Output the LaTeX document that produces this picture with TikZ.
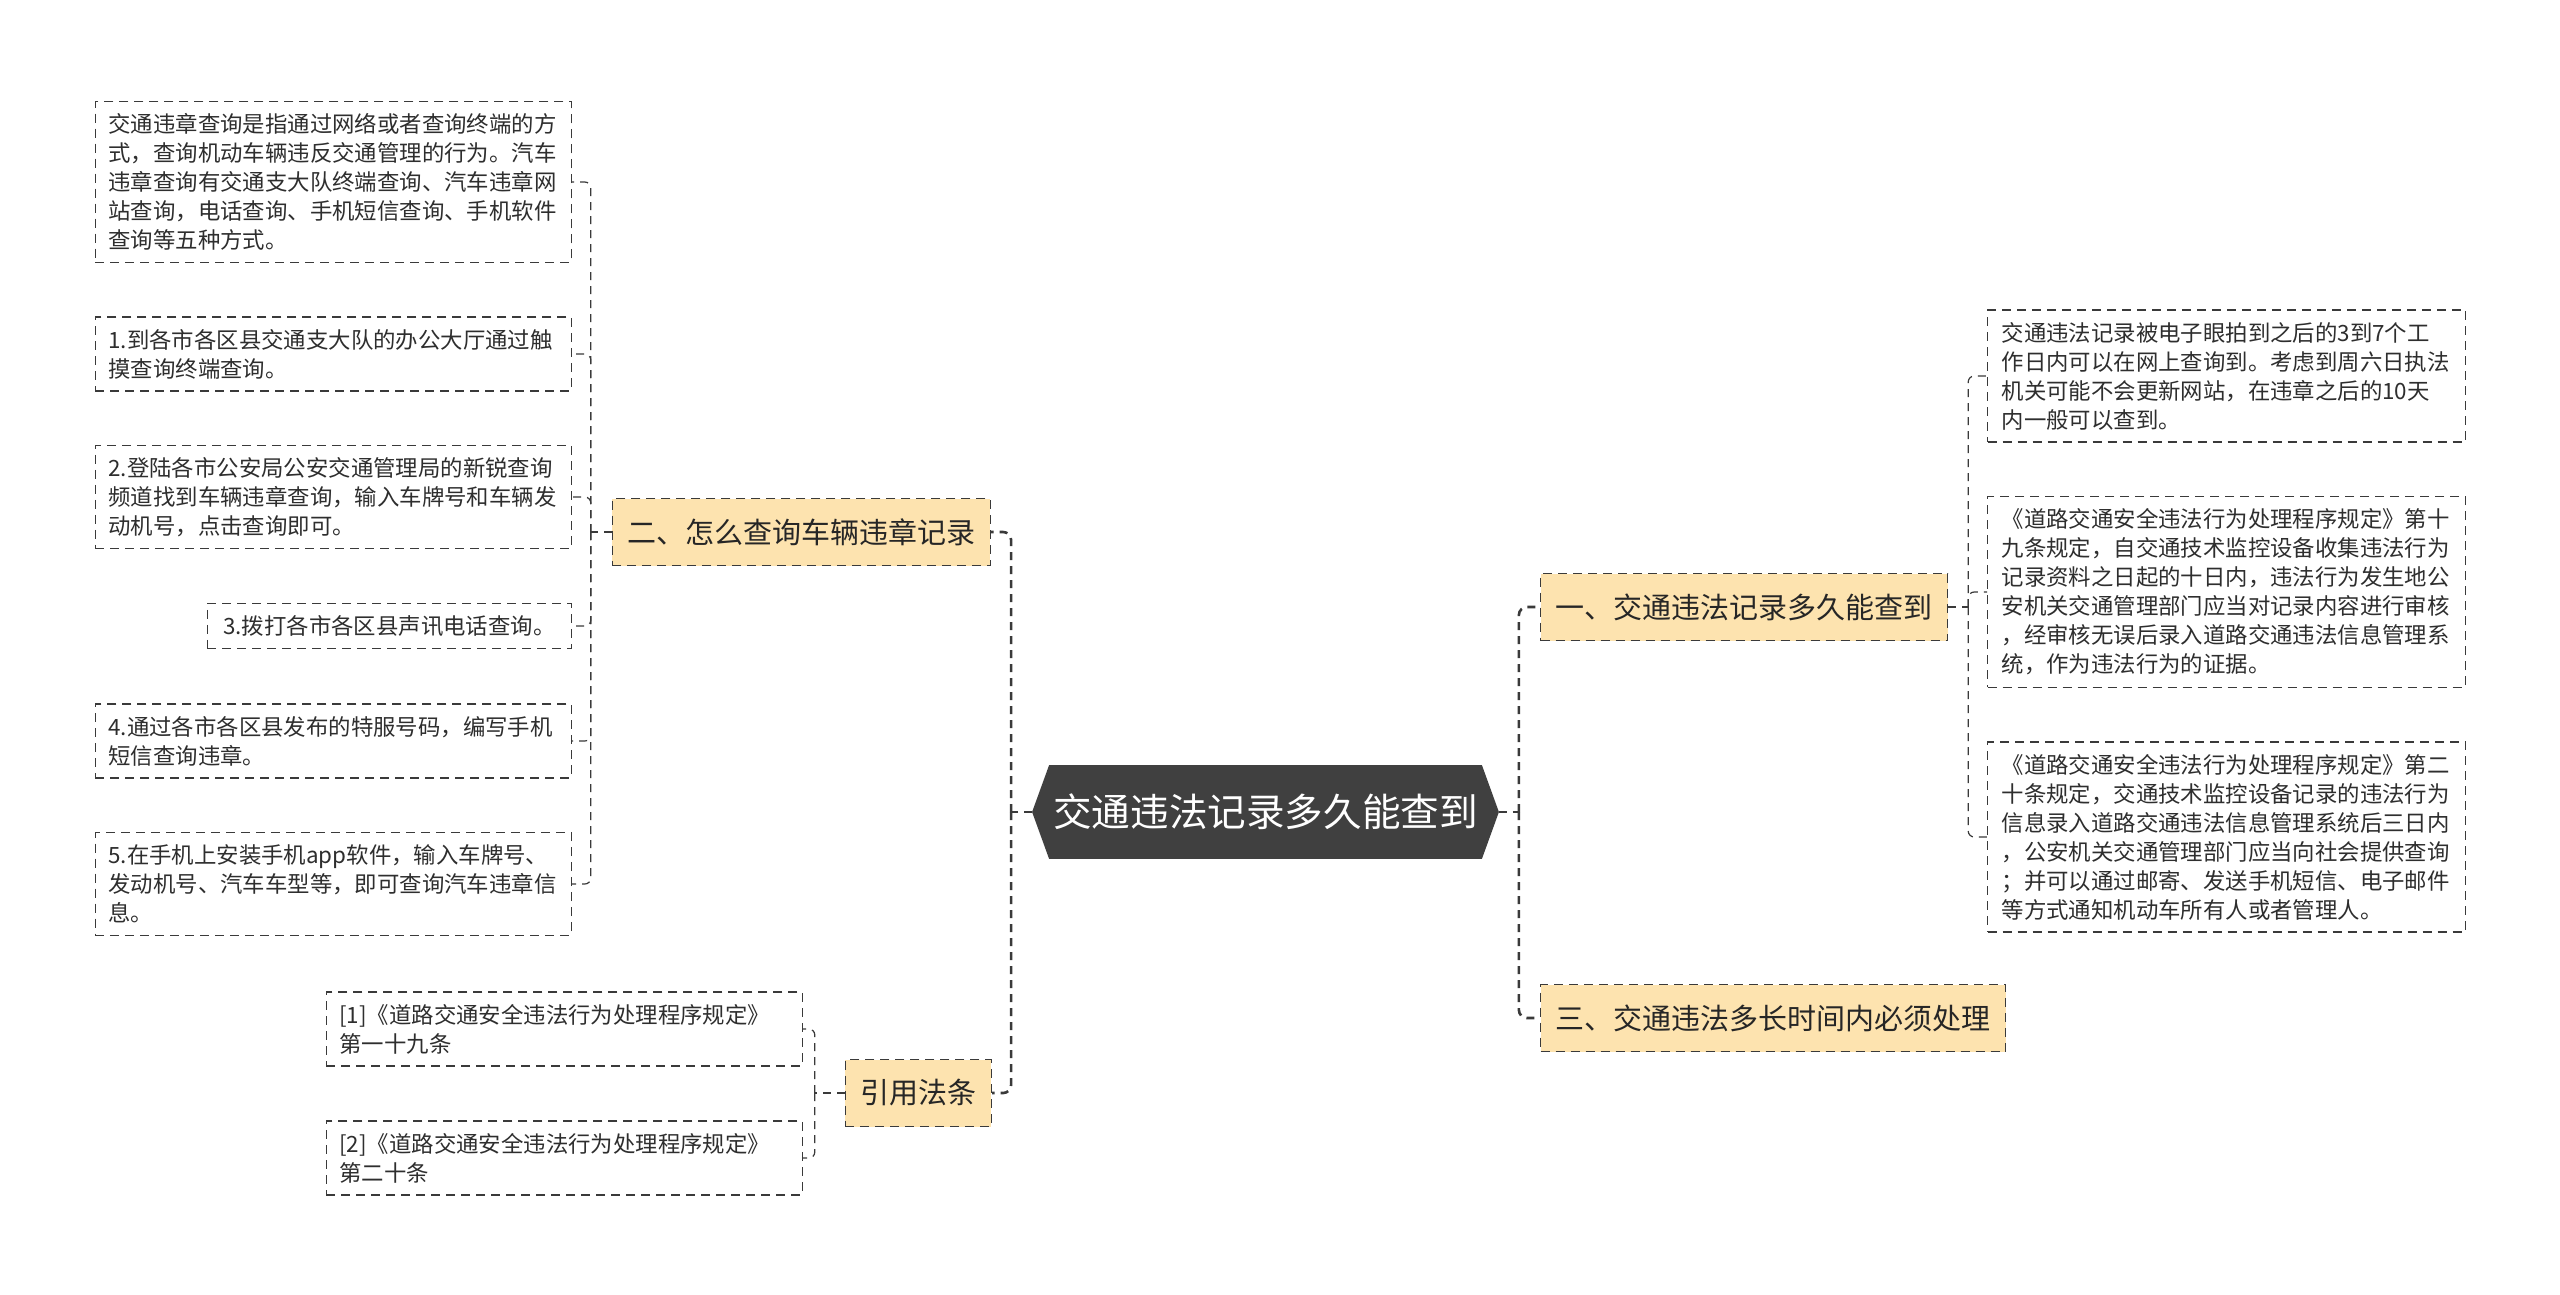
\documentclass[tikz,border=0pt]{standalone}
\usepackage{fontspec}
\newfontfamily\cjk{Noto Sans CJK SC}
\usepackage{xcolor}
\usetikzlibrary{calc,backgrounds}
\definecolor{rootgray}{HTML}{404040}
\definecolor{topicfill}{HTML}{FDE3AF}
\definecolor{linegray}{HTML}{3A3A3A}
\definecolor{textgray}{HTML}{2E2E2E}
\tikzset{
  leaf/.style={draw=linegray, line width=0.6pt, dash pattern=on 4.5pt off 3pt,
    align=left, inner xsep=6.5pt, inner ysep=6pt, text=textgray,
    font=\cjk\fontsize{11.2}{14.5}\selectfont},
  wide/.style={text width=225pt},
  topic/.style={draw=linegray, fill=topicfill, line width=0.6pt,
    dash pattern=on 4.5pt off 3pt, inner xsep=7.5pt, minimum height=33.5pt,
    text=black!85, font=\cjk\fontsize{14.5}{17}\selectfont},
  rootbox/.style={text=white, font=\cjk\fontsize{19.3}{23}\selectfont,
    minimum width=233pt, minimum height=46.5pt, inner sep=0pt},
  trunk/.style={draw=linegray, line width=1.3pt, dash pattern=on 4pt off 3pt,
    rounded corners=4pt},
  twig/.style={draw=linegray, line width=0.6pt, dash pattern=on 4pt off 3pt,
    rounded corners=3pt}
}
\begin{document}
\begin{tikzpicture}[x=0.5pt, y=-0.5pt]
  \useasboundingbox (0,0) rectangle (2560,1295);
  \begin{scope}[on background layer]
    \fill[white] (0,0) rectangle (2560,1295);
  \end{scope}

  % centre
  \node[rootbox] (root) at (1265.5,812) {交通违法记录多久能查到};
  \begin{scope}[on background layer]
    \fill[rootgray] (root.west) -- ($(root.north west)+(17,0)$)
      -- ($(root.north east)+(-17,0)$) -- (root.east)
      -- ($(root.south east)+(-17,0)$) -- ($(root.south west)+(17,0)$) -- cycle;
  \end{scope}

  % topics
  \node[topic, anchor=east] (query) at (991,532) {二、怎么查询车辆违章记录};
  \node[topic, anchor=east] (cite) at (992,1093) {引用法条};
  \node[topic, anchor=west] (when) at (1540,607) {一、交通违法记录多久能查到};
  \node[topic, anchor=west] (limit) at (1540,1018) {三、交通违法多长时间内必须处理};

  % query leaves
  \node[leaf, wide, anchor=east] (q0) at (572,182) {交通违章查询是指通过网络或者查询终端的方\\式，查询机动车辆违反交通管理的行为。汽车\\违章查询有交通支大队终端查询、汽车违章网\\站查询，电话查询、手机短信查询、手机软件\\查询等五种方式。};
  \node[leaf, wide, anchor=east] (q1) at (572,354) {1.到各市各区县交通支大队的办公大厅通过触\\摸查询终端查询。};
  \node[leaf, wide, anchor=east] (q2) at (572,497) {2.登陆各市公安局公安交通管理局的新锐查询\\频道找到车辆违章查询，输入车牌号和车辆发\\动机号，点击查询即可。};
  \node[leaf, anchor=east, inner xsep=8pt] (q3) at (572,626) {3.拨打各市各区县声讯电话查询。};
  \node[leaf, wide, anchor=east] (q4) at (572,741) {4.通过各市各区县发布的特服号码，编写手机\\短信查询违章。};
  \node[leaf, wide, anchor=east] (q5) at (572,884) {5.在手机上安装手机app软件，输入车牌号、\\发动机号、汽车车型等，即可查询汽车违章信\\息。};

  % cite leaves
  \node[leaf, wide, anchor=east] (c1) at (803,1029) {[1]《道路交通安全违法行为处理程序规定》\\第一十九条};
  \node[leaf, wide, anchor=east] (c2) at (803,1158) {[2]《道路交通安全违法行为处理程序规定》\\第二十条};

  % when leaves
  \node[leaf, wide, anchor=west, inner xsep=7pt] (w0) at (1987,376) {交通违法记录被电子眼拍到之后的3到7个工\\作日内可以在网上查询到。考虑到周六日执法\\机关可能不会更新网站，在违章之后的10天\\内一般可以查到。};
  \node[leaf, wide, anchor=west, inner xsep=7pt] (w1) at (1987,592) {《道路交通安全违法行为处理程序规定》第十\\九条规定，自交通技术监控设备收集违法行为\\记录资料之日起的十日内，违法行为发生地公\\安机关交通管理部门应当对记录内容进行审核\\，经审核无误后录入道路交通违法信息管理系\\统，作为违法行为的证据。};
  \node[leaf, wide, anchor=west, inner xsep=7pt] (w2) at (1987,837) {《道路交通安全违法行为处理程序规定》第二\\十条规定，交通技术监控设备记录的违法行为\\信息录入道路交通违法信息管理系统后三日内\\，公安机关交通管理部门应当向社会提供查询\\；并可以通过邮寄、发送手机短信、电子邮件\\等方式通知机动车所有人或者管理人。};

  % junctions
  \coordinate (jl) at ($(root.west)+(-21,0)$);
  \coordinate (jr) at ($(root.east)+(20,0)$);
  \coordinate (jq) at ($(query.west)+(-21,0)$);
  \coordinate (jc) at ($(cite.west)+(-30,0)$);
  \coordinate (jw) at ($(when.east)+(20,0)$);

  % trunk connectors
  \draw[trunk] (root.west) -- (jl);
  \draw[trunk] (jl) |- (query.east);
  \draw[trunk] (jl) |- (cite.east);
  \draw[trunk] (root.east) -- (jr);
  \draw[trunk] (jr) |- (when.west);
  \draw[trunk] (jr) |- (limit.west);

  % twig connectors
  \draw[twig] (query.west) -- (jq);
  \foreach \n in {q0,q1,q2,q3,q4,q5}
    \draw[twig] (jq) |- (\n.east);
  \draw[twig] (cite.west) -- (jc);
  \foreach \n in {c1,c2}
    \draw[twig] (jc) |- (\n.east);
  \draw[twig] (when.east) -- (jw);
  \foreach \n in {w0,w1,w2}
    \draw[twig] (jw) |- (\n.west);
\end{tikzpicture}
\end{document}
